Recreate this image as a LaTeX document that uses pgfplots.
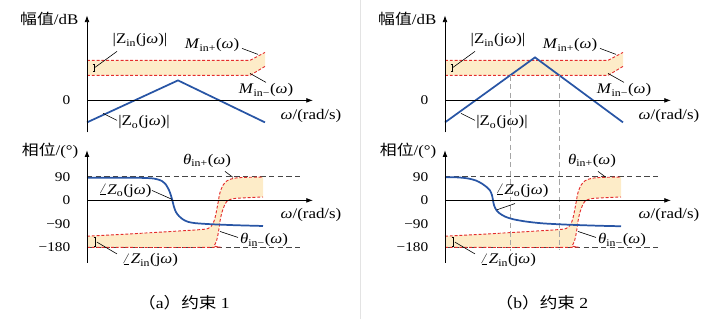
\documentclass[border=0pt]{standalone}
\usepackage{fontspec}
\setmainfont{Liberation Serif}[FakeStretch=1.15]
\newfontfamily\cjk{Noto Sans CJK SC}[FakeStretch=1.15]
\usepackage{pgfplots}
\pgfplotsset{compat=1.18}
\usepackage{pgfplotstable}
\usepgfplotslibrary{fillbetween}
\usetikzlibrary{arrows.meta}

\definecolor{zblue}{RGB}{40,85,165}
\definecolor{bandred}{RGB}{228,45,45}
\definecolor{bandfill}{RGB}{253,236,200}
\definecolor{refgray}{RGB}{70,70,70}
\definecolor{vgray}{RGB}{165,165,165}

% magnitude band (dB)
\pgfplotstableread{
x y
0 40
163 40
178 48
}\magup
\pgfplotstableread{
x y
0 25
163 25
178 34
}\maglo
% |Zo| asymptotes
\pgfplotstableread{
x y
0 -22
91 20
178 -22
}\zoma
\pgfplotstableread{
x y
0 -22
90 43
178 -22
}\zomb
% phase band (deg)
\pgfplotstableread{
x y
0 -137
40 -129
80 -120
113 -112
121 -108
124 -100
127 -80
129 -50
131 -10
133 30
136 58
140 75
146 84
156 88
176 89
}\thup
\pgfplotstableread{
x y
0 -180
124 -180
127 -174
129.5 -155
131.5 -120
133 -80
135 -45
138 -15
141 0
147 7
158 10
176 13
}\thlo
% angle Zo
\pgfplotstableread{
x y
0 87
43 87
63 85
70 81
75 74
79 60
81 47
83 30
85 5
87 -25
89 -45
92 -60
96 -73
101 -82
108 -87
123 -91
148 -95
176 -98
}\zpa
\pgfplotstableread{
x y
0 89
13 88
23 84
31 76
37 64
42 50
45 38
47 20
48 0
49 -18
51 -35
54 -48
60 -62
68 -72
81 -81
98 -88
123 -93
153 -97
176 -99
}\zpb

\newcommand{\w}{\textit{ω}}
\newcommand{\lab}{\fontsize{11}{13}\selectfont}
\newcommand{\tk}{\fontsize{10}{12}\selectfont}

\tikzset{
  ptr/.style={black, line width=0.45pt},
  brk/.style={black, line width=0.4pt, {Bar[width=2pt]}-{Bar[width=2pt]}},
}
\pgfplotsset{
  base/.style={axis lines=middle, x=0.75pt, xmin=0, xmax=226,
    xtick=\empty, ytick=\empty, clip=false, axis on top, anchor=south west,
    every inner x axis line/.append style={line width=0.6pt,-{Latex[length=5pt,width=3.6pt]}},
    every inner y axis line/.append style={line width=0.6pt,-{Latex[length=5pt,width=3.6pt]}}},
  mag/.style={base, y=0.75pt, ymin=-32, ymax=85},
  pha/.style={base, y=0.195833pt, ymin=-238, ymax=192},
  band/.style={bandred, dash pattern=on 2.2pt off 1.4pt, line width=0.7pt},
  zline/.style={zblue, line width=1.3pt},
  refl/.style={refgray, dash pattern=on 4pt off 2.5pt, line width=0.6pt},
}

\begin{document}
\begin{tikzpicture}
\path (0,0) rectangle (538.5pt,239.25pt);
\draw[gray!22, line width=0.6pt] (270pt,0) -- (270pt,239.25pt);

% ---------------- (a) magnitude
\begin{axis}[mag, at={(65.25pt,140.25pt)}]
\addplot[draw=none, name path=mu] table {\magup};
\addplot[draw=none, name path=ml] table {\maglo};
\addplot[fill=bandfill, draw=none] fill between[of=mu and ml];
\addplot[band] table {\magup};
\addplot[band] table {\maglo};
\addplot[zline] table {\zoma};
\draw[brk] (axis cs:7,29) -- (axis cs:7,36);
\draw[ptr] (axis cs:8,33) -- (axis cs:30,49);
\draw[ptr] (axis cs:155,52) -- (axis cs:171,46);
\draw[ptr] (axis cs:163,27) -- (axis cs:179,18);
\draw[ptr] (axis cs:16,-13) -- (axis cs:30,-20);
\node[anchor=east, font=\lab] at (axis cs:-4,81) {{\cjk 幅值}/dB};
\node[anchor=east, font=\tk] at (axis cs:-12,0) {0};
\node[font=\lab] at (axis cs:53,60) {|Z\textsubscript{in}(j\w)|};
\node[font=\lab] at (axis cs:125,55) {\textit{M}\textsubscript{in+}(\w)};
\node[font=\lab] at (axis cs:179,10) {\textit{M}\textsubscript{in−}(\w)};
\node[font=\lab] at (axis cs:57,-22) {|Z\textsubscript{o}(j\w)|};
\node[font=\lab] at (axis cs:224,-16) {\w/(rad/s)};
\end{axis}

% ---------------- (a) phase
\begin{axis}[pha, at={(65.25pt,42.64pt)}]
\addplot[draw=none, smooth, name path=tu] table {\thup};
\addplot[draw=none, smooth, name path=tl] table {\thlo};
\addplot[fill=bandfill, draw=none] fill between[of=tu and tl];
\addplot[refl] coordinates {(0,90) (213,90)};
\addplot[refl] coordinates {(0,-180) (213,-180)};
\addplot[band, smooth] table {\thup};
\addplot[band, smooth] table {\thlo};
\addplot[zline, smooth] table {\zpa};
\draw[brk] (axis cs:8,-142) -- (axis cs:8,-175);
\draw[ptr] (axis cs:10,-160) -- (axis cs:30,-205);
\draw[ptr] (axis cs:138,111) -- (axis cs:146,88);
\draw[ptr] (axis cs:65,38) -- (axis cs:85,4);
\draw[ptr] (axis cs:133,-119) -- (axis cs:151,-142);
\node[anchor=east, font=\lab] at (axis cs:-4,191) {{\cjk 相位}/(°)};
\node[anchor=east, font=\tk] at (axis cs:-12,90) {90};
\node[anchor=east, font=\tk] at (axis cs:-12,0) {0};
\node[anchor=east, font=\tk] at (axis cs:-12,-90) {−90};
\node[anchor=east, font=\tk] at (axis cs:-12,-180) {−180};
\node[font=\lab] at (axis cs:120,153) {\textit{θ}\textsubscript{in+}(\w)};
\node[font=\lab] at (axis cs:38,38) {$\angle$\textit{Z}\textsubscript{o}(j\w)};
\node[font=\lab] at (axis cs:177,-153) {\textit{θ}\textsubscript{in−}(\w)};
\node[font=\lab] at (axis cs:63,-230) {$\angle$\textit{Z}\textsubscript{in}(j\w)};
\node[font=\lab] at (axis cs:224,-57) {\w/(rad/s)};
\end{axis}

% ---------------- (b) magnitude
\begin{axis}[mag, at={(333.75pt,140.25pt)}]
\addplot[draw=none, name path=mu] table {\magup};
\addplot[draw=none, name path=ml] table {\maglo};
\addplot[fill=bandfill, draw=none] fill between[of=mu and ml];
\addplot[band] table {\magup};
\addplot[band] table {\maglo};
\addplot[zline] table {\zomb};
\draw[brk] (axis cs:7,29) -- (axis cs:7,36);
\draw[ptr] (axis cs:8,33) -- (axis cs:30,49);
\draw[ptr] (axis cs:155,52) -- (axis cs:171,46);
\draw[ptr] (axis cs:163,27) -- (axis cs:179,18);
\draw[ptr] (axis cs:16,-13) -- (axis cs:30,-20);
\node[anchor=east, font=\lab] at (axis cs:-4,81) {{\cjk 幅值}/dB};
\node[anchor=east, font=\tk] at (axis cs:-12,0) {0};
\node[font=\lab] at (axis cs:53,60) {|Z\textsubscript{in}(j\w)|};
\node[font=\lab] at (axis cs:125,55) {\textit{M}\textsubscript{in+}(\w)};
\node[font=\lab] at (axis cs:179,10) {\textit{M}\textsubscript{in−}(\w)};
\node[font=\lab] at (axis cs:57,-22) {|Z\textsubscript{o}(j\w)|};
\node[font=\lab] at (axis cs:224,-16) {\w/(rad/s)};
\end{axis}

% ---------------- (b) phase
\begin{axis}[pha, at={(333.75pt,42.64pt)}]
\addplot[draw=none, smooth, name path=tu] table {\thup};
\addplot[draw=none, smooth, name path=tl] table {\thlo};
\addplot[fill=bandfill, draw=none] fill between[of=tu and tl];
\addplot[vgray, dash pattern=on 4pt off 2.5pt, line width=0.6pt] coordinates {(65,479) (65,-192)};
\addplot[vgray, dash pattern=on 4pt off 2.5pt, line width=0.6pt] coordinates {(114,479) (114,-186)};
\addplot[refl] coordinates {(0,90) (213,90)};
\addplot[refl] coordinates {(0,-180) (213,-180)};
\addplot[band, smooth] table {\thup};
\addplot[band, smooth] table {\thlo};
\addplot[zline, smooth] table {\zpb};
\draw[brk] (axis cs:8,-142) -- (axis cs:8,-175);
\draw[ptr] (axis cs:10,-160) -- (axis cs:30,-205);
\draw[ptr] (axis cs:153,111) -- (axis cs:161,88);
\draw[ptr] (axis cs:70,-12) -- (axis cs:52,-36);
\draw[ptr] (axis cs:133,-119) -- (axis cs:151,-142);
\node[anchor=east, font=\lab] at (axis cs:-4,191) {{\cjk 相位}/(°)};
\node[anchor=east, font=\tk] at (axis cs:-12,90) {90};
\node[anchor=east, font=\tk] at (axis cs:-12,0) {0};
\node[anchor=east, font=\tk] at (axis cs:-12,-90) {−90};
\node[anchor=east, font=\tk] at (axis cs:-12,-180) {−180};
\node[font=\lab] at (axis cs:147,153) {\textit{θ}\textsubscript{in+}(\w)};
\node[font=\lab] at (axis cs:77,38) {$\angle$\textit{Z}\textsubscript{o}(j\w)};
\node[font=\lab] at (axis cs:177,-153) {\textit{θ}\textsubscript{in−}(\w)};
\node[font=\lab] at (axis cs:63,-230) {$\angle$\textit{Z}\textsubscript{in}(j\w)};
\node[font=\lab] at (axis cs:224,-57) {\w/(rad/s)};
\end{axis}

% captions
\node[font=\fontsize{11.5}{13}\selectfont] at (138pt,12.5pt) {{\cjk （}a{\cjk ）约束} 1};
\node[font=\fontsize{11.5}{13}\selectfont] at (406.5pt,12.5pt) {{\cjk （}b{\cjk ）约束} 2};
\end{tikzpicture}
\end{document}
